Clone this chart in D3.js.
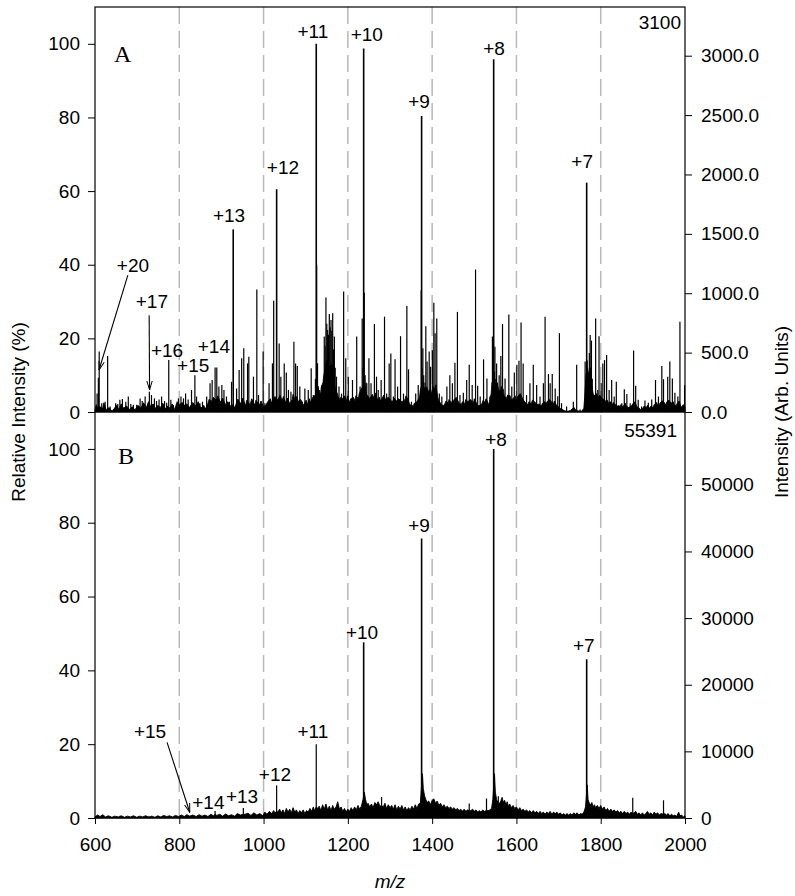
<!DOCTYPE html>
<html>
<head>
<meta charset="utf-8">
<script src="https://cdn.jsdelivr.net/npm/d3@7"></script>
<style>
  body { margin: 0; background: #fff; }
  svg text { font-family: "Liberation Sans", Arial, Helvetica, sans-serif; fill: #000; }
</style>
</head>
<body>
<div id="chart"></div>
<script>
// ---- data ----
// m/z ticks and y ticks
const xTicks = [600, 800, 1000, 1200, 1400, 1600, 1800, 2000];
const gridLines = [800, 1000, 1200, 1400, 1600, 1800];
const relTicks = [0, 20, 40, 60, 80, 100];
const absTicksA = [0, 500, 1000, 1500, 2000, 2500, 3000];
const absTicksB = [0, 10000, 20000, 30000, 40000, 50000];
const baseA = 3100;   // intensity at 100 %
const baseB = 55391;

// panel A sticks: [m/z, relative %]
const peaksA = [
  [605,5],[608,9.3],[610,16.4],[616,2.4],[624,2.8],[630,15.2],[636,1.5],[649,2.4],[654,2.2],[659,3.3],
  [665,3.5],[673,2.8],[679,4.2],[685,2.2],[691,2],[699,2],[707,3.7],[712,3],[719,4.2],[729,5.5],
  [734,4.6],[741,3.7],[746,3],[752,3.4],[758,4.2],[765,3],[770,2.5],[775,14.1],[780,3.3],[786,1.9],
  [792,1.4],[798,3.7],[804,4.2],[810,3.7],[815,5],[821,3.4],[829,6],[837,10],[841,4.2],[849,2.4],
  [855,2.8],[865,4.2],[873,7.8],[878,8.7],[885,12.1],[889,12.1],[894,6.9],[901,7.3],[906,6],[912,4.2],
  [919,2.8],[924,8.2],[928,49.6],[936,6.4],[942,11.4],[948,14.6],[953,17.3],[962,13.2],[965,15],[976,9.6],
  [984,33.3],[988,4.6],[999,16.4],[1003,2.4],[1013,7.8],[1021,13.2],[1024,30.2],[1031,60.5],[1037,18.6],[1041,9.6],
  [1049,13.2],[1054,10.7],[1059,6],[1065,5.5],[1072,19.1],[1076,13.2],[1080,12.5],[1086,6.9],[1092,2.8],[1098,6.4],
  [1106,6],[1113,11.9],[1118,4.6],[1123,9],[1125,100],[1126,40],[1127,11],[1128,13.2],[1130,7],[1139,7.3],
  [1144,20.5],[1146,18],[1148,31.1],[1150,24],[1152,22.3],[1154,21],[1156,26.6],[1158,23],[1160,25],[1162,22],
  [1164,26.8],[1166,17],[1168,20.5],[1170,12],[1173,9.6],[1179,6.9],[1185,5],[1190,32.7],[1195,14.6],[1201,9.6],
  [1211,8.7],[1221,20.5],[1229,6.9],[1234,25.4],[1236,12],[1237.5,98.7],[1239,32.4],[1241,10],[1243,8],[1245,7.8],
  [1250,14.6],[1255,7.8],[1263,23.9],[1268,9.6],[1272,6],[1279,8.7],[1287,25.9],[1292,5],[1298,13.2],[1302,15.9],
  [1308,4.2],[1312,14.3],[1318,6.9],[1325,20.6],[1332,5],[1340,28.8],[1344,11.6],[1351,2.8],[1361,5],[1367,7.3],
  [1374,33.1],[1375,80.4],[1376,12],[1378,17.3],[1380,10],[1383,8],[1385,23.3],[1388,13.7],[1393,16.4],[1396,12.3],
  [1400.5,16.8],[1404,29.7],[1407,21.4],[1411,25.4],[1417,5],[1423,4.2],[1435,6.9],[1442,10],[1448,7.8],[1454,13.4],
  [1460,27.2],[1466,4.6],[1474,5.2],[1482,8.7],[1488,12.8],[1495,7.3],[1503,38.7],[1508,7.1],[1514,4.2],[1522,14.3],
  [1530,9.1],[1537,4.2],[1543,20.5],[1544,12],[1546,95.8],[1548,11],[1549,17.7],[1551,9],[1553,13.2],[1555,8],
  [1559,10],[1563,15.2],[1567,23.9],[1573,9.1],[1582,26.5],[1589,6.9],[1595,10.7],[1601,12.8],[1606,13.9],[1611,24.3],
  [1616,13.2],[1624,4.6],[1632,7.8],[1640,12.8],[1648,7.3],[1656,4.2],[1664,7.8],[1668,25.9],[1676,10.3],[1680,7.8],
  [1685,10.3],[1692,6.4],[1698,4.3],[1702,21.4],[1707,2.4],[1719,1.5],[1735,2.8],[1743,12.8],[1751,0.7],[1763,13.7],
  [1766.7,62.3],[1768,14],[1770,11],[1771,8.7],[1773,16],[1775,20.9],[1776,12],[1778,19.4],[1780,9],[1783,4.2],
  [1788,25.4],[1793,6],[1796,20.6],[1801,7.8],[1805,13.2],[1809,14.1],[1814,15.5],[1820,6],[1826,8.7],[1832,4.2],
  [1837,8.2],[1843,1.9],[1850,2.4],[1856,6.2],[1862,4.9],[1870,2.4],[1878,16.7],[1883,7.1],[1889,3.3],[1897,1.5],
  [1905,3.1],[1913,2.5],[1921,3.4],[1930,8.7],[1937,4.2],[1945,12.5],[1949,8.9],[1959,9.6],[1964,13.7],[1970,9.1],
  [1976,5.2],[1983,4.2],[1988,24.5],[1994,1.5],[1999,7.3]
];

// panel A noise floor: [m/z, relative %]
const noiseA = [
  [600,0.5],[603,2],[606,1],[612,1.5],[618,0.8],[621,2.5],[627,0.5],[633,1.2],[640,0.3],[645,0.8],[651,1.8],[657,0.6],
  [662,2.2],[668,1],[675,1.6],[682,0.7],[688,1.4],[695,0.6],[702,1.8],[709,1],[715,2.5],[722,1.2],[727,2.8],[732,1.5],
  [738,2.2],[744,0.9],[749,1.8],[755,1.2],[761,2.4],[767,0.8],[772,1.6],[778,1],[783,2.2],[789,0.6],[795,2.8],[801,2],
  [807,2.6],[812,1.8],[818,2.2],[824,1.2],[832,2.6],[838,1.6],[845,2.8],[851,1],[858,1.8],[862,0.8],[868,2.4],[871,3.5],
  [876,2.8],[881,4],[887,3.2],[892,4.4],[897,2.6],[903,3.8],[909,2],[915,2.8],[921,1.6],[926,2],[932,1.2],[939,3.5],
  [945,2.2],[951,3.8],[957,1.6],[960,3.2],[968,2],[972,3.6],[979,1.8],[982,3.2],[990,1.8],[994,3],[1000,1.2],[1006,2],
  [1010,2.8],[1016,3.6],[1019,2.4],[1027,4.2],[1034,3.2],[1039,4.6],[1044,3],[1047,4.2],[1052,2.6],[1057,3.8],[1062,2.2],
  [1068,3.4],[1070,4.8],[1074,3.6],[1078,4.2],[1083,2.8],[1088,3.4],[1095,1.8],[1101,3.2],[1104,2],[1109,3.6],[1111,2.4],
  [1116,3.8],[1121,4.4],[1132,6],[1135,4.6],[1137,6.8],[1141,8],[1143,10],[1147,12],[1149,14],[1153,13],[1157,12],
  [1161,13],[1165,10],[1167,8],[1171,6],[1175,5],[1177,4.2],[1181,3.2],[1183,4],[1187,3.6],[1192,4.4],[1197,3],[1199,4.4],
  [1204,2.6],[1207,3.6],[1213,4],[1217,3],[1219,4.4],[1225,3.6],[1227,5],[1232,6.4],[1241,7],[1243,5],[1247,4.4],
  [1252,3.6],[1258,4.8],[1261,3.8],[1265,5.2],[1270,3.4],[1275,4],[1277,3],[1282,3.8],[1285,4.6],[1290,3.2],[1295,4],
  [1300,3.6],[1305,2.6],[1310,3.8],[1315,3],[1321,3.6],[1328,2.8],[1335,3.2],[1338,4.4],[1342,3.6],[1347,2],[1355,1.6],
  [1358,2.4],[1364,2.8],[1370,4],[1372,6],[1377,8],[1381,6.4],[1387,6.8],[1391,5.6],[1395,6],[1398,4.8],[1402,7],
  [1406,6.2],[1409,7.4],[1413,4.2],[1415,3.2],[1420,2.4],[1426,1.6],[1430,2.2],[1433,3],[1438,2.4],[1440,3.4],[1445,2.6],
  [1451,3.2],[1457,4],[1463,2.6],[1469,2],[1472,2.8],[1477,2.2],[1480,3.4],[1485,2.8],[1491,3.4],[1498,2.4],[1500,3.6],
  [1506,2.2],[1511,1.6],[1518,2.2],[1521,3.2],[1525,2.6],[1528,3.6],[1533,2.4],[1535,1.8],[1540,5],[1542,8],[1547,9],
  [1550,7],[1552,8],[1556,7],[1558,6],[1561,5.6],[1565,7],[1569,6],[1571,4.4],[1576,3.6],[1579,4.6],[1585,4.4],[1587,3.2],
  [1592,3.6],[1597,4.4],[1599,3.2],[1603,4.2],[1609,5],[1613,4],[1618,3],[1621,2.6],[1627,2],[1630,2.8],[1635,2.2],
  [1638,3.2],[1643,2.8],[1646,2.4],[1651,2],[1654,2.2],[1659,1.6],[1662,2.4],[1666,2.8],[1671,2.4],[1674,3],[1678,3.4],
  [1683,2.8],[1688,2.2],[1690,3],[1695,1.8],[1700,1.4],[1704,1],[1710,0.6],[1715,0.3],[1722,0.2],[1728,0.4],[1732,0.8],
  [1737,1.2],[1740,0.6],[1746,0.3],[1755,0.2],[1760,1],[1762,4],[1765,10],[1769,12],[1772,9],[1774,11],[1777,8],[1779,7],
  [1782,5],[1785,4.4],[1790,5],[1794,4],[1798,4.6],[1803,3.6],[1807,3.4],[1811,3],[1816,3.2],[1818,2.4],[1823,2.8],
  [1828,2],[1830,2.6],[1835,2],[1840,1.6],[1846,1.4],[1848,2],[1853,1.4],[1858,2.4],[1860,1.6],[1866,1.2],[1873,1.6],
  [1876,2.2],[1881,2.8],[1886,1.4],[1892,1],[1895,0.6],[1900,1],[1903,1.6],[1908,1.2],[1911,1.8],[1916,1],[1919,1.6],
  [1924,1.2],[1927,2],[1933,2.6],[1935,1.8],[1940,2.2],[1943,2.8],[1947,3],[1952,2.4],[1955,1.8],[1957,2.8],[1962,3.2],
  [1967,2.4],[1972,2.8],[1974,2],[1979,1.6],[1981,2.2],[1986,3],[1991,1.2],[1996,2],[2000,1.4]
];

// panel B sticks: [m/z, relative %]
const peaksB = [
  [885,1.9],[952,2.7],[1031,8.8],[1125,20],[1237.5,47.6],[1280,5.7],[1375,75.7],[1488,3.9],
  [1529,5.3],[1546,100],[1557,5.9],[1766.7,43],[1876,5.5],[1949,4.8]
];

// panel B baseline: [m/z, relative %]
const noiseB = [
  [600,0.3],[606,0.8],[612,0.4],[618,0.9],[625,0.3],[632,0.6],[640,0.2],[647,0.5],[655,0.3],[662,0.6],[670,0.2],[677,0.5],
  [684,0.3],[691,0.6],[699,0.2],[706,0.5],[713,0.3],[720,0.6],[728,0.3],[735,0.5],[742,0.2],[749,0.6],[756,0.3],[763,0.7],
  [770,0.4],[777,0.6],[784,0.3],[791,0.7],[798,0.4],[805,0.8],[812,0.4],[818,0.9],[825,0.5],[832,0.8],[840,0.4],[847,0.9],
  [854,0.5],[861,0.8],[868,0.4],[875,1],[881,0.6],[885,1],[889,0.7],[896,1],[903,0.5],[910,1.1],[917,0.6],[924,0.9],
  [931,0.5],[938,1.2],[945,0.8],[952,1],[956,1],[963,1.3],[970,0.7],[977,1.4],[984,0.8],[991,1.2],[998,0.6],[1003,1.6],
  [1008,1],[1014,1.8],[1019,1.2],[1024,2],[1027,1.4],[1031,1.8],[1034,1.6],[1038,2.4],[1042,1.4],[1046,2.2],[1050,1.2],
  [1054,2.6],[1058,1.6],[1062,2.4],[1066,1.4],[1070,2.8],[1074,1.6],[1078,2.2],[1082,1.2],[1086,2],[1090,1.4],[1094,2.2],
  [1098,1.2],[1102,2],[1106,1.6],[1110,2.6],[1114,1.8],[1118,3],[1121,2],[1125,3],[1128,2.6],[1132,3.2],[1136,2],
  [1140,3.6],[1144,2.4],[1148,3.8],[1152,2.2],[1156,3.2],[1160,2],[1164,3.4],[1168,2.4],[1172,3],[1176,4.4],[1180,2.4],
  [1184,3],[1188,1.8],[1192,2.6],[1196,1.6],[1200,2.4],[1204,1.8],[1208,2.8],[1212,2],[1216,3],[1220,2.2],[1224,3.4],
  [1228,2.4],[1232,3.2],[1236,5],[1239,7],[1242,5],[1245,3.6],[1248,4],[1252,3],[1256,3.8],[1260,2.8],[1264,4.2],
  [1268,3.6],[1272,4.4],[1276,3.2],[1280,3.4],[1284,3],[1288,4],[1292,2.6],[1296,3.6],[1300,2.8],[1304,3.4],[1308,2.4],
  [1312,3.6],[1316,2.2],[1320,3.2],[1324,2.4],[1328,3.4],[1332,2.2],[1336,3],[1340,2],[1344,2.8],[1348,2.2],[1352,3.2],
  [1356,2.4],[1360,3.6],[1364,2.6],[1368,3.8],[1372,4],[1377,12],[1379,8],[1382,6],[1385,5],[1388,4.2],[1392,4.6],
  [1396,3.6],[1400,4.8],[1404,5.2],[1408,4],[1412,4.6],[1416,3.4],[1420,4],[1424,3],[1428,3.6],[1432,2.8],[1436,3.2],
  [1440,2.6],[1444,3],[1448,2.4],[1452,2.8],[1456,2.2],[1460,2.6],[1464,2],[1468,2.4],[1472,1.8],[1476,2.4],[1480,1.8],
  [1484,2.2],[1488,2],[1492,2],[1496,2.4],[1500,1.8],[1504,2.2],[1508,1.6],[1512,2],[1516,1.6],[1520,2.2],[1524,1.8],
  [1529,2],[1533,2],[1537,2.2],[1541,2.6],[1544,5],[1548,12],[1550,7],[1553,5],[1557,4],[1560,4],[1563,4.6],[1566,5.6],
  [1569,4.2],[1572,4.8],[1575,3.6],[1578,4.4],[1581,3.2],[1584,3.8],[1588,2.8],[1592,3.4],[1596,2.6],[1600,3],[1604,2.2],
  [1608,2.8],[1612,2],[1616,2.4],[1620,1.8],[1624,2.2],[1628,1.6],[1632,2],[1636,1.4],[1640,2],[1644,1.4],[1648,1.8],
  [1652,1.2],[1656,1.8],[1660,1.2],[1664,1.6],[1668,1],[1672,1.6],[1676,1.2],[1680,1.8],[1684,1],[1688,1.6],[1692,1.2],
  [1696,1.6],[1700,1],[1704,1.4],[1708,0.8],[1712,1.2],[1716,0.8],[1720,1.2],[1724,0.8],[1728,1.2],[1732,0.8],[1736,1.4],
  [1740,1],[1744,1.4],[1748,0.8],[1752,1.2],[1756,1],[1760,1.6],[1764,3],[1768,9],[1770,5],[1773,4],[1776,3.6],[1779,4.2],
  [1782,3],[1785,3.6],[1788,2.8],[1792,3.4],[1796,2.6],[1800,3.4],[1804,2.4],[1808,3],[1812,2],[1816,2.6],[1820,1.8],
  [1824,2.4],[1828,1.8],[1832,2.2],[1836,1.6],[1840,2],[1844,1.4],[1848,1.8],[1852,1.2],[1856,1.8],[1860,1.2],[1864,1.6],
  [1868,1],[1872,1.6],[1876,1.2],[1879,1.4],[1883,1.8],[1887,1],[1891,1.4],[1895,0.8],[1899,1.4],[1903,0.8],[1907,1.2],
  [1911,1.8],[1915,1],[1919,1.4],[1923,0.8],[1927,1.6],[1931,1],[1935,1.4],[1939,0.8],[1943,1.2],[1949,1],[1952,1.2],
  [1956,0.8],[1960,1.2],[1964,0.6],[1968,1],[1972,0.6],[1976,0.8],[1980,0.4],[1985,1.6],[1988,0.6],[1992,0.8],[1996,0.3],
  [2000,0.6]
];

// charge state labels
const chargesA = ['+7', '+8', '+9', '+10', '+11', '+12', '+13', '+14', '+15', '+16', '+17', '+20'];
const chargesB = ['+7', '+8', '+9', '+10', '+11', '+12', '+13', '+14', '+15'];

// ---- layout ----
const width = 795;
const height = 896;
const left = 95;
const right = 685;
const topA = 7;
const mid = 412;
const bottomB = 818;
const fontSize = 19;

// label anchors in data units [m/z, %] (text centre, baseline)
const labelPosA = {
  '+7': [1756, 66.3], '+8': [1547, 96.9], '+9': [1369, 82.5], '+10': [1245, 100.7],
  '+11': [1117, 101.5], '+12': [1046, 64.6], '+13': [918, 51.6], '+14': [882, 16],
  '+15': [833, 10.9], '+16': [771, 14.9], '+17': [735, 28.2], '+20': [690, 38]
};
const labelPosB = {
  '+7': [1760, 44.9], '+8': [1551.5, 100.8], '+9': [1369, 77.5], '+10': [1233.6, 48.5],
  '+11': [1117, 21.6], '+12': [1027, 10], '+13': [949, 4], '+14': [869, 2.4], '+15': [730.5, 21.6]
};
// arrows [from m/z, from %, to m/z, to %]
const arrowsA = [[678, 37.2, 609.5, 11.4], [728.5, 26.3, 729.5, 6]];
const arrowsB = [[771, 20.5, 825, 1.5]];

const svg = d3.select('#chart').append('svg')
  .attr('width', width)
  .attr('height', height);

svg.append('defs').append('marker')
  .attr('id', 'vhead')
  .attr('viewBox', '0 0 10 10')
  .attr('refX', 10)
  .attr('refY', 5)
  .attr('markerWidth', 9)
  .attr('markerHeight', 9)
  .attr('markerUnits', 'userSpaceOnUse')
  .attr('orient', 'auto')
  .append('path')
  .attr('d', 'M0,2 L10,5 L0,8')
  .attr('fill', 'none')
  .attr('stroke', '#000')
  .attr('stroke-width', 1.1);

const x = d3.scaleLinear().domain([600, 2000]).range([left, right]);

const panels = [
  {
    name: 'A', peaks: peaksA, noise: noiseA, charges: chargesA, labelPos: labelPosA, arrows: arrowsA,
    base: baseA, absTicks: absTicksA, absFormat: d3.format('.1f'),
    y: d3.scaleLinear().domain([0, 110]).range([mid, topA]),
    yAbs: d3.scaleLinear().domain([0, baseA * 1.1]).range([mid, topA]),
    letterPos: [114, 62], basePos: [681, 29]
  },
  {
    name: 'B', peaks: peaksB, noise: noiseB, charges: chargesB, labelPos: labelPosB, arrows: arrowsB,
    base: baseB, absTicks: absTicksB, absFormat: d3.format('d'),
    y: d3.scaleLinear().domain([0, 110]).range([bottomB, mid]),
    yAbs: d3.scaleLinear().domain([0, baseB * 1.1]).range([bottomB, mid]),
    letterPos: [118, 464], basePos: [677, 437]
  }
];

// dashed guide lines behind everything
svg.append('g')
  .selectAll('line')
  .data(gridLines)
  .join('line')
  .attr('x1', d => x(d))
  .attr('x2', d => x(d))
  .attr('y1', topA)
  .attr('y2', bottomB)
  .attr('stroke', '#b8b8b8')
  .attr('stroke-width', 1.5)
  .attr('stroke-dasharray', '17,7');

panels.forEach((p) => {
  const g = svg.append('g').attr('class', `panel-${p.name}`);

  // noise floor, filled down to the baseline
  g.append('path')
    .datum(p.noise)
    .attr('fill', '#000')
    .attr('stroke', '#000')
    .attr('stroke-width', 0.9)
    .attr('stroke-linejoin', 'miter')
    .attr('d', d3.area().x(d => x(d[0])).y0(p.y(0)).y1(d => p.y(d[1])));

  // sticks
  g.append('g')
    .selectAll('line')
    .data(p.peaks)
    .join('line')
    .attr('x1', d => x(d[0]))
    .attr('x2', d => x(d[0]))
    .attr('y1', p.y(0))
    .attr('y2', d => p.y(d[1]))
    .attr('stroke', '#000')
    .attr('stroke-width', d => (d[1] > 40 ? 1.6 : 1.2));

  // left axis (%)
  const axL = g.append('g')
    .attr('transform', `translate(${left},0)`)
    .call(d3.axisLeft(p.y).tickValues(relTicks).tickSize(7).tickPadding(8).tickSizeOuter(0));
  axL.select('.domain').remove();
  axL.selectAll('text').attr('font-size', fontSize).attr('font-family', null);

  // right axis (absolute)
  const axR = g.append('g')
    .attr('transform', `translate(${right},0)`)
    .call(d3.axisRight(p.yAbs).tickValues(p.absTicks).tickFormat(p.absFormat).tickSize(7).tickPadding(9).tickSizeOuter(0));
  axR.select('.domain').remove();
  axR.selectAll('text').attr('font-size', fontSize).attr('font-family', null);

  // panel letter and base peak intensity
  g.append('text')
    .attr('x', p.letterPos[0])
    .attr('y', p.letterPos[1])
    .attr('font-size', 24)
    .style('font-family', '"Liberation Serif", "Times New Roman", serif')
    .text(p.name);

  g.append('text')
    .attr('x', p.basePos[0])
    .attr('y', p.basePos[1])
    .attr('text-anchor', 'end')
    .attr('font-size', fontSize)
    .text(p.base);

  // charge-state labels
  g.append('g')
    .selectAll('text')
    .data(p.charges)
    .join('text')
    .attr('x', d => x(p.labelPos[d][0]))
    .attr('y', d => p.y(p.labelPos[d][1]))
    .attr('text-anchor', 'middle')
    .attr('font-size', fontSize)
    .text(d => d);

  g.append('g')
    .selectAll('line')
    .data(p.arrows)
    .join('line')
    .attr('x1', d => x(d[0]))
    .attr('y1', d => p.y(d[1]))
    .attr('x2', d => x(d[2]))
    .attr('y2', d => p.y(d[3]))
    .attr('stroke', '#000')
    .attr('stroke-width', 1.1)
    .attr('marker-end', 'url(#vhead)');
});

// bottom m/z axis
const axB = svg.append('g')
  .attr('transform', `translate(0,${bottomB})`)
  .call(d3.axisBottom(x).tickValues(xTicks).tickFormat(d3.format('d')).tickSize(6).tickPadding(14).tickSizeOuter(0));
axB.select('.domain').remove();
axB.selectAll('text').attr('font-size', fontSize).attr('font-family', null);

// frame
const frame = svg.append('g').attr('stroke', '#000').attr('stroke-width', 1.2).attr('fill', 'none');
frame.append('rect')
  .attr('x', left)
  .attr('y', topA)
  .attr('width', right - left)
  .attr('height', bottomB - topA);
frame.append('line')
  .attr('x1', left)
  .attr('x2', right)
  .attr('y1', mid)
  .attr('y2', mid);

// axis titles
svg.append('text')
  .attr('transform', `translate(25,${mid}) rotate(-90)`)
  .attr('text-anchor', 'middle')
  .attr('font-size', fontSize)
  .text('Relative Intensity (%)');

svg.append('text')
  .attr('transform', `translate(788,${mid}) rotate(-90)`)
  .attr('text-anchor', 'middle')
  .attr('font-size', fontSize)
  .text('Intensity (Arb. Units)');

svg.append('text')
  .attr('x', x(1300))
  .attr('y', 888)
  .attr('text-anchor', 'middle')
  .attr('font-size', fontSize)
  .attr('font-style', 'italic')
  .text('m/z');
</script>
</body>
</html>
